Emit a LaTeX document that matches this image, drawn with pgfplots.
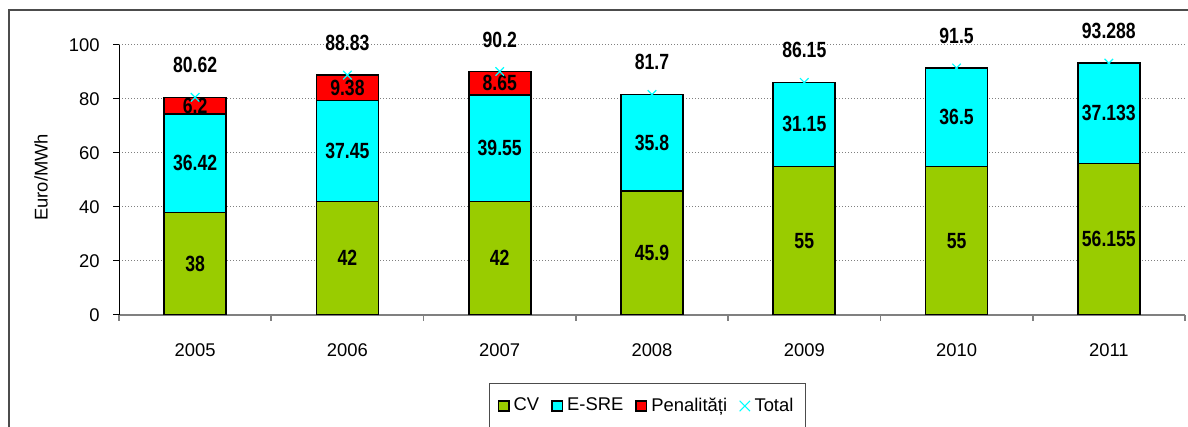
\documentclass[border=0pt]{standalone}
\usepackage{fontspec}
\setmainfont{Liberation Sans}
\newfontfamily\nb{Liberation Sans}[FakeStretch=0.8]
\usepackage{pgfplots}
\usepackage{pgfplotstable}
\pgfplotsset{compat=1.18}
\definecolor{cvgreen}{HTML}{99CC00}
\definecolor{esrecyan}{HTML}{00FFFF}
\definecolor{penred}{HTML}{FF0000}
\pgfplotstableread{
x cv esre pen total
0 38 36.42 6.2 80.62
1 42 37.45 9.38 88.83
2 42 39.55 8.65 90.2
3 45.9 35.8 0 81.7
4 55 31.15 0 86.15
5 55 36.5 0 91.5
6 56.155 37.133 0 93.288
}\data
\pgfplotsset{
  common/.style={
    scale only axis, width=533pt, height=135pt,
    at={(59.5pt,56pt)}, anchor=south west,
    xmin=-0.5, xmax=6.5, ymin=0, ymax=100,
  },
  sq/.style={legend image code/.code={\draw[##1] (0pt,-2.6pt) rectangle (5.2pt,2.6pt);}},
  lbl/.style={only marks, mark=*, mark size=0pt, mark options={draw=none,fill=none},
    nodes near coords, point meta=explicit symbolic,
    every node near coord/.append style={anchor=center, text=black, font=\nb\bfseries\fontsize{11}{12}\selectfont}},
}
\begin{document}
\begin{tikzpicture}
\useasboundingbox (0,0) rectangle (594pt,213.5pt);
\draw[gray!60!black, line width=0.7pt] (4.5pt,-5pt) -- (4.5pt,208.5pt) -- (600pt,208.5pt);
\begin{axis}[common,
  ybar stacked, bar width=31pt,
  axis x line*=bottom, axis y line*=left,
  x axis line style={gray, line width=0.8pt},
  y axis line style={black, line width=0.5pt},
  xtick={-0.5,0.5,...,6.5}, xticklabels={},
  extra x ticks={0,1,2,3,4,5,6},
  extra x tick labels={2005,2006,2007,2008,2009,2010,2011},
  extra x tick style={major tick length=0pt, xticklabel style={yshift=-11pt}},
  xtick style={gray, line width=0.8pt},
  ytick={0,20,...,100},
  ytick style={black, line width=0.5pt},
  tick align=outside, major tick length=3pt,
  yticklabel style={xshift=-3.2pt},
  tick label style={font=\fontsize{9.2}{11}\selectfont},
  /pgf/number format/assume math mode=true,
  ymajorgrids, major grid style={gray, dash pattern=on 0.6pt off 0.9pt, line width=0.5pt},
  ylabel={Euro/MWh},
  every axis y label/.style={at={(axis description cs:-0.0732,0.51)}, rotate=90, anchor=center, font=\fontsize{9.2}{11}\selectfont},
  legend style={at={(0.4958,-0.337)}, anchor=center, legend columns=-1,
    draw=gray!60!black, line width=0.6pt, font=\fontsize{9.2}{11}\selectfont,
    inner ysep=5pt, inner xsep=4pt,
    /tikz/every even column/.append style={column sep=4pt}},
]
\addplot[sq, fill=cvgreen, draw=black, line width=0.8pt] table[x=x,y=cv] {\data};
\addlegendentry{CV}
\addplot[sq, fill=esrecyan, draw=black, line width=0.8pt] table[x=x,y=esre] {\data};
\addlegendentry{E-SRE}
\addplot[sq, fill=penred, draw=black, line width=0.8pt] table[x=x,y=pen] {\data};
\addlegendentry{Penalități}
\addlegendimage{legend image code/.code={\draw[esrecyan, line width=0.5pt] (0pt,-2.6pt) -- (5.2pt,2.6pt) (0pt,2.6pt) -- (5.2pt,-2.6pt);}}
\addlegendentry{Total}
\end{axis}
\begin{axis}[common, hide axis, clip=false]
\addplot[lbl] table[x=x, y expr=\thisrow{cv}/2, meta=cv] {\data};
\addplot[lbl] table[x=x, y expr=\thisrow{cv}+\thisrow{esre}/2, meta=esre] {\data};
\addplot[lbl, skip coords between index={3}{7}] table[x=x, y expr=\thisrow{cv}+\thisrow{esre}+\thisrow{pen}/2, meta=pen] {\data};
\addplot[only marks, mark=x, mark size=3pt, esrecyan, line width=0.6pt] table[x=x,y=total] {\data};
\addplot[lbl, every node near coord/.append style={yshift=16pt}] table[x=x, y=total, meta=total] {\data};
\end{axis}
\end{tikzpicture}
\end{document}
